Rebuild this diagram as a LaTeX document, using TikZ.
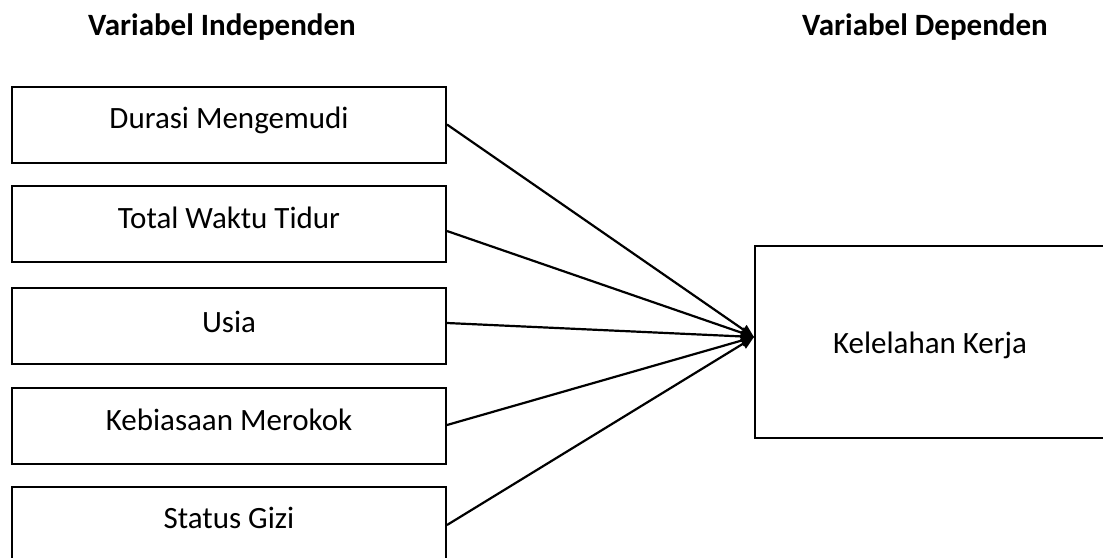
\documentclass[tikz,border=0pt]{standalone}
\usepackage{fontspec}
\setmainfont{Carlito}
\usetikzlibrary{arrows.meta}
\begin{document}
\begin{tikzpicture}[x=1pt,y=-1pt,
  varbox/.style={draw=black,line width=2pt,rectangle,inner sep=0pt,
    minimum width=434pt,minimum height=76pt},
  depbox/.style={draw=black,line width=2pt,rectangle,inner sep=0pt,
    minimum width=350pt,minimum height=192pt},
  lbl/.style={anchor=base,inner sep=0pt,font=\fontsize{31}{37}\selectfont},
  ttl/.style={anchor=base,inner sep=0pt,font=\fontsize{31}{37}\selectfont\bfseries},
  link/.style={line width=2.2pt,-{Triangle[length=13pt,width=11pt]}}]
\clip (0,0) rectangle (1103,557);
\fill[white] (0,0) rectangle (1103,557);

% column headings
\node[ttl] (hind) at (222,35) {Variabel Independen};
\node[ttl] (hdep) at (925,35) {Variabel Dependen};

% independent variables
\node[varbox] (b1) at (229,124.5) {};
\node[varbox] (b2) at (229,224) {};
\node[varbox] (b3) at (229,326) {};
\node[varbox] (b4) at (229,426) {};
\node[varbox] (b5) at (229,525) {};
\node[lbl] at (229,128) {Durasi Mengemudi};
\node[lbl] at (229,228) {Total Waktu Tidur};
\node[lbl] at (229,332) {Usia};
\node[lbl] at (229,430) {Kebiasaan Merokok};
\node[lbl] at (229,528) {Status Gizi};

% dependent variable
\node[depbox] (kk) at (930,342) {};
\node[lbl] at (930,353) {Kelelahan Kerja};
\coordinate (tip) at ([yshift=5pt]kk.west);

% influence arrows
\draw[link] (b1.east) -- (tip);
\draw[link] ([yshift=-7pt]b2.east) -- (tip);
\draw[link] ([yshift=3pt]b3.east) -- (tip);
\draw[link] ([yshift=1pt]b4.east) -- (tip);
\draw[link] (b5.east) -- (tip);
\end{tikzpicture}
\end{document}
